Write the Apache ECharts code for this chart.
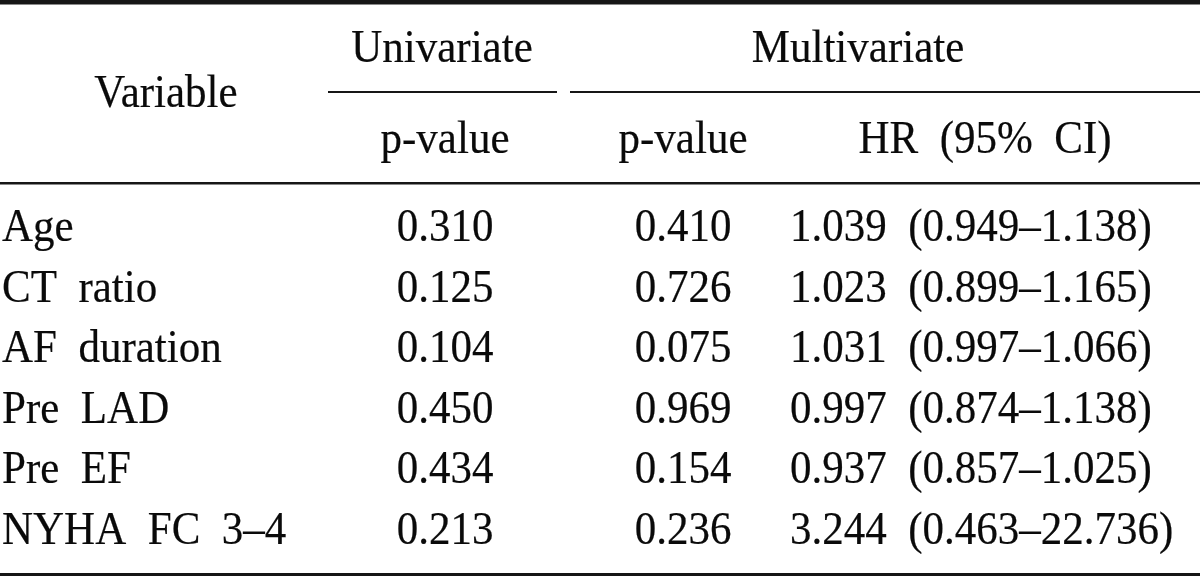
<!DOCTYPE html>
<html><head><meta charset="utf-8">
<script src="https://cdn.jsdelivr.net/npm/echarts@6/dist/echarts.min.js"></script>
<style>html,body{margin:0;padding:0;background:#fff}#c{width:1200px;height:576px}</style>
</head><body><div id="c"></div>
<script>
// ---- data ----
const variables = ['Age', 'CT  ratio', 'AF  duration', 'Pre  LAD', 'Pre  EF', 'NYHA  FC  3\u20134'];
const uniP   = [0.310, 0.125, 0.104, 0.450, 0.434, 0.213];
const multiP = [0.410, 0.726, 0.075, 0.969, 0.154, 0.236];
const hr     = [1.039, 1.023, 1.031, 0.997, 0.937, 3.244];
const ciLow  = [0.949, 0.899, 0.997, 0.874, 0.857, 0.463];
const ciHigh = [1.138, 1.165, 1.066, 1.138, 1.025, 22.736];
const stubHeader = 'Variable';
const groupHeaders = ['Univariate', 'Multivariate'];
const subHeaders = ['p-value', 'p-value', 'HR  (95%  CI)'];

// ---- layout / style ----
const FONT = '43px "Liberation Serif", "Times New Roman", serif';
const INK = '#0a0a0a';
const RULE = '#161616';
const colStubX = 2, colUniX = 445, colMpX = 683, colHrX = 790, colHrHeadX = 985;
const groupCX = [442, 858];
const rowBase0 = 243, rowStep = 60.6, midOff = 14;
const SY = 1.06;

const chart = echarts.init(document.getElementById('c'), null, {renderer: 'canvas'});

function txt(x, y, s, align) {
  return {type: 'text', x: x, y: y, scaleY: SY,
    style: {x: 0, y: 0, text: s, font: FONT, fill: INK, stroke: INK, lineWidth: 0.2, align: align, verticalAlign: 'middle'}};
}
function rule(api, x1, x2, y, h) {
  const p1 = api.coord([x1, y]), p2 = api.coord([x2, y]);
  return {type: 'rect', shape: {x: p1[0], y: p1[1], width: p2[0] - p1[0], height: h}, style: {fill: RULE}};
}

const rowIdx = variables.map((v, i) => [i]);

chart.setOption({
  animation: false,
  grid: {left: 0, right: 0, top: 0, bottom: 0},
  xAxis: {type: 'value', min: 0, max: 1200, show: false},
  yAxis: {type: 'value', min: 0, max: 576, inverse: true, show: false},
  series: [
    {
      type: 'custom',
      coordinateSystem: 'cartesian2d',
      data: [[0]],
      renderItem: function (params, api) {
        const c = (x, y) => api.coord([x, y]);
        const ch = [];
        ch.push(rule(api, 0, 1200, 0, 4.5));
        ch.push(rule(api, 328, 557, 91, 2));
        ch.push(rule(api, 570, 1200, 91, 2));
        ch.push(rule(api, 0, 1200, 182, 2.5));
        ch.push(rule(api, 0, 1200, 573, 3));
        let p = c(166, 109 - midOff); ch.push(txt(p[0], p[1], stubHeader, 'center'));
        groupHeaders.forEach((g, k) => { const q = c(groupCX[k], 64 - midOff); ch.push(txt(q[0], q[1], g, 'center')); });
        const subX = [colUniX, colMpX, colHrHeadX];
        subHeaders.forEach((s, k) => { const q = c(subX[k], 155 - midOff); ch.push(txt(q[0], q[1], s, 'center')); });
        return {type: 'group', children: ch};
      }
    },
    {
      type: 'custom',
      coordinateSystem: 'cartesian2d',
      data: rowIdx,
      renderItem: function (params, api) {
        const i = api.value(0);
        const yv = rowBase0 + rowStep * i - midOff;
        const a = api.coord([colStubX, yv]), b = api.coord([colUniX, yv]),
              m = api.coord([colMpX, yv]), h = api.coord([colHrX, yv]);
        return {type: 'group', children: [
          txt(a[0], a[1], variables[i], 'left'),
          txt(b[0], b[1], uniP[i].toFixed(3), 'center'),
          txt(m[0], m[1], multiP[i].toFixed(3), 'center'),
          txt(h[0], h[1], hr[i].toFixed(3) + '  (' + ciLow[i].toFixed(3) + '\u2013' + ciHigh[i].toFixed(3) + ')', 'left')
        ]};
      }
    }
  ]
});
</script>
</body></html>
